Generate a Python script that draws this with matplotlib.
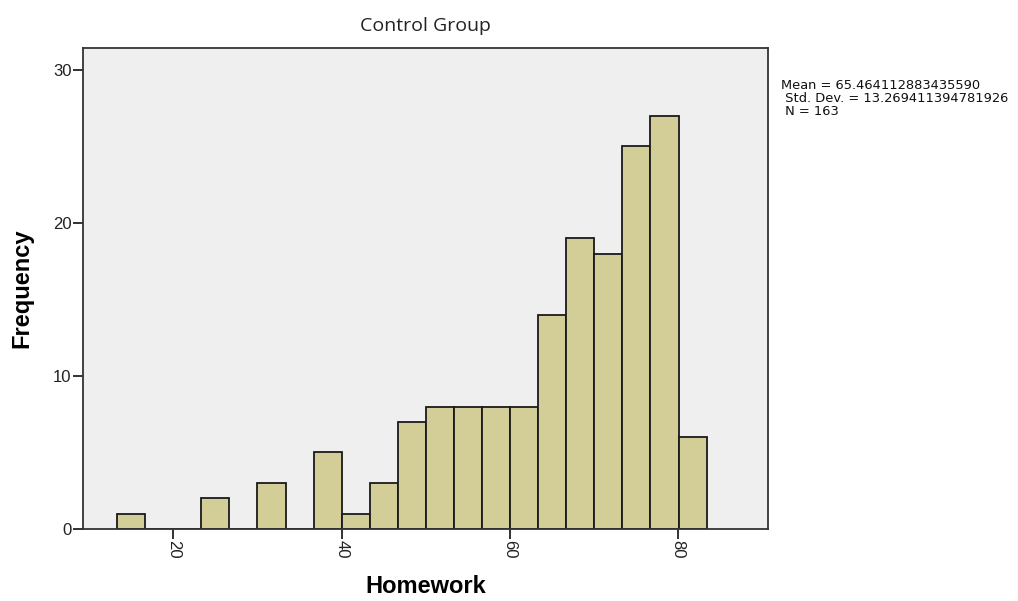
import numpy as np
import matplotlib
matplotlib.use('Agg')
import matplotlib.pyplot as plt

# Histogram of homework scores, control group
hist_min = 13.3
hist_max = 83.4
counts = [1, 0, 0, 2, 0, 3, 0, 5, 1, 3, 7, 8, 8, 8, 8, 14, 19, 18, 25, 27, 6]
x_ticks = [20, 40, 60, 80]
y_ticks = [0, 10, 20, 30]

mean_val = '65.464112883435590'
std_val = '13.269411394781926'
n_val = 163

edges = np.linspace(hist_min, hist_max, len(counts) + 1)
widths = np.diff(edges)

fig = plt.figure(figsize=(10.18, 6.01), dpi=100)
ax = fig.add_axes([0.0812, 0.1198, 0.6732, 0.8008])
ax.set_facecolor('#efefef')

ax.bar(edges[:-1], counts, width=widths, align='edge',
       color='#d3ce97', edgecolor='#1a1a1a', linewidth=1.3)

ax.set_xlim(9.2, 90.7)
ax.set_ylim(0, 31.45)
ax.set_xticks(x_ticks)
ax.set_yticks(y_ticks)
ax.set_xticklabels([str(t) for t in x_ticks], rotation=270,
                   fontfamily='Liberation Sans', fontsize=12)
ax.set_yticklabels([str(t) for t in y_ticks],
                   fontfamily='Liberation Sans', fontsize=12)
ax.tick_params(direction='out', length=7, width=1.3, color='#222222',
               labelcolor='#222222', pad=1)

for sp in ax.spines.values():
    sp.set_color('#333333')
    sp.set_linewidth(1.3)

ax.set_xlabel('Homework', fontfamily='Liberation Sans', fontsize=17,
              fontweight='bold', labelpad=12)
ax.set_ylabel('Frequency', fontfamily='Liberation Sans', fontsize=17,
              fontweight='bold', labelpad=14)
ax.set_title('Control Group', fontfamily='Open Sans', fontsize=14,
             color='#222222', pad=12)

stats = 'Mean = %s\n Std. Dev. = %s\n N = %d' % (mean_val, std_val, n_val)
fig.text(0.767, 0.868, stats, fontfamily='DejaVu Sans', fontsize=9.4,
         va='top', ha='left', linespacing=1.0, color='#111111')

fig.savefig('out.png', dpi=100)
